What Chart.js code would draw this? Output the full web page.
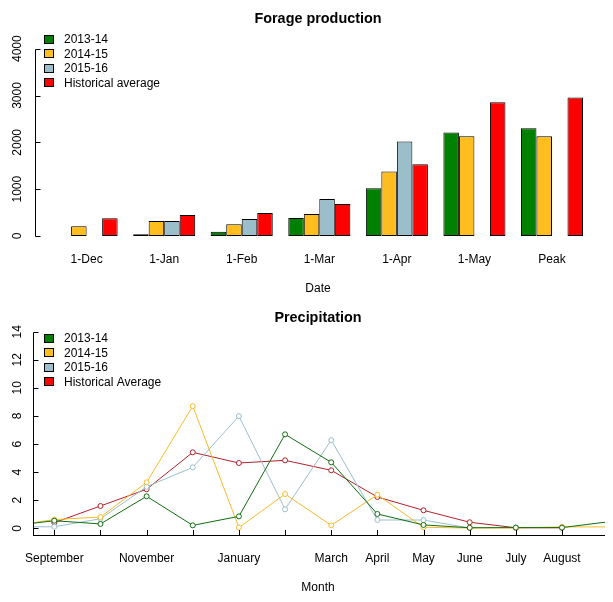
<!DOCTYPE html>
<html><head><meta charset="utf-8">
<script src="https://cdn.jsdelivr.net/npm/chart.js@4/dist/chart.umd.min.js"></script>
<style>
html,body{margin:0;padding:0;background:#fff;width:613px;height:602px;overflow:hidden}
canvas{position:absolute;left:0}
#c1{top:0}
#c2{top:300px}
</style></head><body>
<canvas id="c1" width="613" height="300"></canvas>
<canvas id="c2" width="613" height="302"></canvas>
<script>
// ---------- Forage production ----------
const forageDates = ["1-Dec", "1-Jan", "1-Feb", "1-Mar", "1-Apr", "1-May", "Peak"];
const forage2013 = [null, 40, 90, 385, 1020, 2210, 2300];
const forage2014 = [210, 320, 250, 470, 1380, 2130, 2130];
const forage2015 = [null, 320, 365, 790, 2020, null, null];
const forageHist = [380, 450, 490, 685, 1535, 2855, 2960];
const forageTicks = [0, 1000, 2000, 3000, 4000];
const forageLegend = ["2013-14", "2014-15", "2015-16", "Historical average"];

// ---------- Precipitation ----------
const months = ["September", "October", "November", "December", "January", "February",
                "March", "April", "May", "June", "July", "August"];
// first value = preceding August, last = following September (only their line ends are visible)
const precip2013 = [0.15, 0.54, 0.31, 2.28, 0.21, 0.85, 6.69, 4.70, 1.02, 0.24, 0.04, 0.05, 0.05, 0.46];
const precip2014 = [0.14, 0.62, 0.80, 3.27, 8.70, 0.05, 2.44, 0.21, 2.39, 0.07, 0.02, 0.03, 0.10, 0.10];
const precip2015 = [0.10, 0.11, 0.68, 2.96, 4.34, 7.99, 1.35, 6.28, 0.59, 0.59, 0.02, null, null, null];
const precipHist = [null, 0.40, 1.59, 2.78, 5.41, 4.65, 4.84, 4.13, 2.23, 1.28, 0.43, 0.04, 0.04, null];
const precipTicks = [0, 2, 4, 6, 8, 10, 12, 14];
const precipLegend = ["2013-14", "2014-15", "2015-16", "Historical Average"];

const FILL = ["#008000", "#FFBE1E", "#9BBECB", "#FF0000"];
const LINE = ["#0E6E0E", "#F7BA2A", "#9BBECB", "#B0202A"];
const FONT = '"Liberation Sans", Arial, sans-serif';

const rPlot = {
  id: 'rPlot',
  afterDraw(chart, args, o) {
    const ctx = chart.ctx, ca = chart.chartArea, xs = chart.scales.x, ys = chart.scales.y;
    ctx.save();
    ctx.strokeStyle = '#000'; ctx.fillStyle = '#000'; ctx.lineWidth = 1;
    // y axis line and inward ticks
    const xA = Math.round(ca.left) + 0.5;
    const yt = o.yTicks;
    const yTop = Math.round(ys.getPixelForValue(yt[yt.length - 1])) + 0.5;
    const yBot = o.xAxisLine ? Math.round(ca.bottom) + 0.5 : Math.round(ys.getPixelForValue(yt[0])) + 0.5;
    ctx.beginPath();
    ctx.moveTo(xA, yTop); ctx.lineTo(xA, yBot);
    yt.forEach(v => { const y = Math.round(ys.getPixelForValue(v)) + 0.5; ctx.moveTo(xA, y); ctx.lineTo(xA + 5, y); });
    ctx.stroke();
    ctx.font = '12px ' + FONT;
    ctx.textAlign = 'center'; ctx.textBaseline = 'alphabetic';
    yt.forEach(v => {
      ctx.save(); ctx.translate(20.5, ys.getPixelForValue(v)); ctx.rotate(-Math.PI / 2);
      ctx.fillText(String(v), 0, 0); ctx.restore();
    });
    // x axis
    const yAx = Math.round(ca.bottom) + 0.5;
    if (o.xAxisLine) {
      ctx.beginPath();
      ctx.moveTo(Math.round(ca.left), yAx); ctx.lineTo(Math.round(ca.right), yAx);
      o.xTicks.forEach(v => { const x = Math.round(xs.getPixelForValue(v)) + 0.5; ctx.moveTo(x, yAx); ctx.lineTo(x, yAx - 5.5); });
      ctx.stroke();
    }
    let lastRight = -1e9;
    o.xTicks.forEach((v, i) => {
      const lab = o.xLabels[i]; const x = xs.getPixelForValue(v);
      const w = ctx.measureText(lab).width;
      if (x - w / 2 < lastRight + 10) return;
      ctx.fillText(lab, x, o.xLabelY);
      lastRight = x + w / 2;
    });
    // axis title
    ctx.fillText(o.xTitle, o.titleX, o.xTitleY);
    // main title
    ctx.font = 'bold 14.4px ' + FONT;
    ctx.fillText(o.title, o.titleX, o.titleY);
    // legend
    ctx.font = '12px ' + FONT;
    ctx.textAlign = 'left';
    o.legend.forEach((lab, i) => {
      const cy = o.legendY + i * 14.5;
      ctx.fillStyle = FILL[i];
      ctx.fillRect(44.5, Math.round(cy - 4) + 0.5, 9, 8);
      ctx.strokeStyle = '#000';
      ctx.strokeRect(44.5, Math.round(cy - 4) + 0.5, 9, 8);
      ctx.fillStyle = '#000';
      ctx.fillText(lab, 64, cy + 4.3);
    });
    ctx.restore();
  }
};

// bar chart: groups of 4 bars, 1 unit wide, 1 unit gap between groups (R barplot layout)
const groupCenters = forageDates.map((d, i) => 3 + 5 * i);
const mkBar = (arr, i) => ({
  label: forageLegend[i],
  data: arr.map((v, k) => ({ x: groupCenters[k], y: v })),
  backgroundColor: FILL[i], borderColor: '#000', borderWidth: 1, borderSkipped: false,
  categoryPercentage: 0.8, barPercentage: 1.0
});

new Chart(document.getElementById('c1'), {
  type: 'bar',
  data: { datasets: [mkBar(forage2013, 0), mkBar(forage2014, 1), mkBar(forage2015, 2), mkBar(forageHist, 3)] },
  options: {
    responsive: false, animation: false, events: [],
    layout: { padding: { left: 34.5, right: 8.9, top: 41.2, bottom: 56.5 } },
    plugins: {
      legend: { display: false }, tooltip: { enabled: false },
      rPlot: { yTicks: forageTicks, xTicks: groupCenters, xLabels: forageDates, xAxisLine: false,
               xLabelY: 263.3, xTitle: 'Date', xTitleY: 292, title: 'Forage production', titleY: 23,
               titleX: 318, legend: forageLegend, legendY: 38.7 }
    },
    scales: {
      x: { type: 'linear', min: -0.36, max: 36.36, offset: false, display: false },
      y: { min: -160, max: 4160, display: false }
    }
  },
  plugins: [rPlot]
});

const monthX = months.map((m, i) => i + 1);
const mkLine = (arr, i) => ({
  label: precipLegend[i],
  data: arr.map((v, k) => ({ x: k, y: v })),
  borderColor: LINE[i], borderWidth: 1, backgroundColor: '#fff',
  pointBackgroundColor: '#fff', pointBorderColor: LINE[i], pointBorderWidth: 1,
  pointRadius: c => (c.raw && c.raw.x >= 1 && c.raw.x <= 12) ? 2.5 : 0,
  tension: 0, spanGaps: false
});

new Chart(document.getElementById('c2'), {
  type: 'line',
  data: { datasets: [mkLine(precip2013, 0), mkLine(precip2014, 1), mkLine(precip2015, 2), mkLine(precipHist, 3)] },
  options: {
    responsive: false, animation: false, events: [],
    layout: { padding: { left: 33, right: 8, top: 23.84, bottom: 66.96 } },
    plugins: {
      legend: { display: false }, tooltip: { enabled: false },
      rPlot: { yTicks: precipTicks, xTicks: monthX, xLabels: months, xAxisLine: true,
               xLabelY: 262.3, xTitle: 'Month', xTitleY: 290.7, title: 'Precipitation', titleY: 22,
               titleX: 318, legend: precipLegend, legendY: 37.8 }
    },
    scales: {
      x: { type: 'linear', min: 0.5385, max: 12.932, display: false },
      y: { min: -0.48, max: 14.56, display: false }
    }
  },
  plugins: [rPlot]
});
</script>
</body></html>
